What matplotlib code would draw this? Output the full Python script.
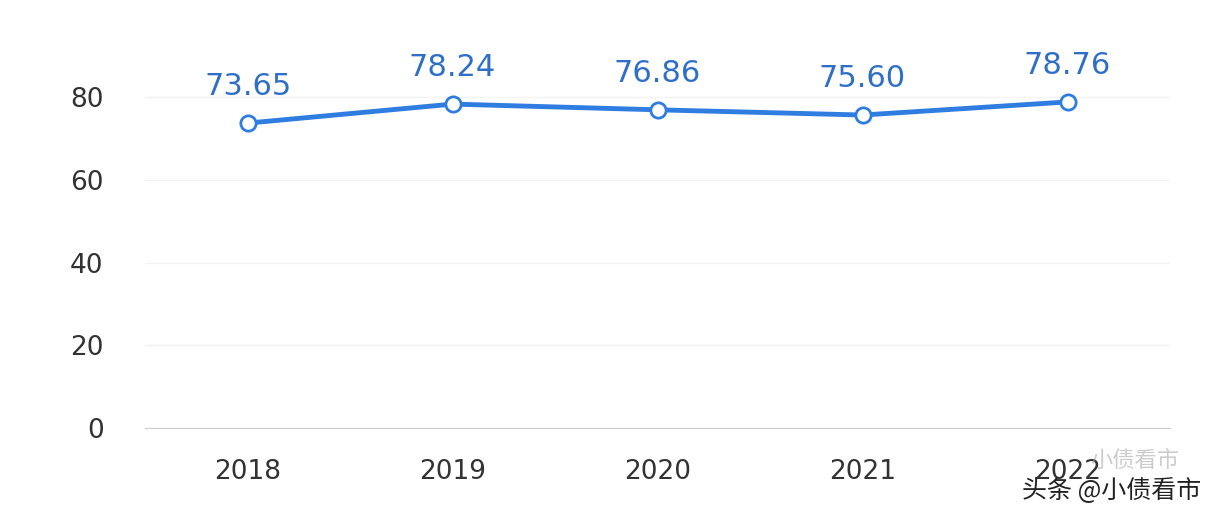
import matplotlib
matplotlib.use("Agg")
import matplotlib.pyplot as plt

years = ["2018", "2019", "2020", "2021", "2022"]
values = [73.65, 78.24, 76.86, 75.60, 78.76]
yticks = [0, 20, 40, 60, 80]

plt.rcParams['font.family'] = ['DejaVu Sans', 'Noto Sans CJK SC']
fig = plt.figure(figsize=(12.2, 5.16), dpi=100)
ax = fig.add_axes([0.119, 0.17, 0.84, 0.803])
x = list(range(len(years)))
ax.plot(x, values, color='#2f7de1', lw=3.5, marker='o', ms=11,
        markerfacecolor='white', markeredgecolor='#2f7de1', markeredgewidth=2, zorder=3)
for xi, v in zip(x, values):
    ax.annotate(f"{v:.2f}", (xi, v), xytext=(0, 16), textcoords='offset points',
                ha='center', va='bottom', fontsize=22, color='#2f6fc8')
ax.set_xlim(-0.5, 4.5)
ax.set_ylim(0, 100)
ax.set_yticks(yticks)
ax.set_xticks(x)
ax.set_xticklabels(years)
ax.tick_params(axis='both', length=0, labelsize=19, colors='#333333')
ax.tick_params(axis='x', pad=22)
ax.tick_params(axis='y', pad=30)
ax.grid(axis='y', color='#f3f3f3', lw=1)
for s in ['top', 'right', 'left']:
    ax.spines[s].set_visible(False)
ax.spines['bottom'].set_color('#cccccc')
fig.text(0.93, 0.095, "小债看市", fontsize=16, color='#999999', alpha=0.5,
         ha='center', family=['Noto Sans CJK SC'])
fig.text(0.985, 0.035, "头条 @小债看市", fontsize=18, color='#222222',
         ha='right', family=['Noto Sans CJK SC'])
fig.savefig("out.png")
